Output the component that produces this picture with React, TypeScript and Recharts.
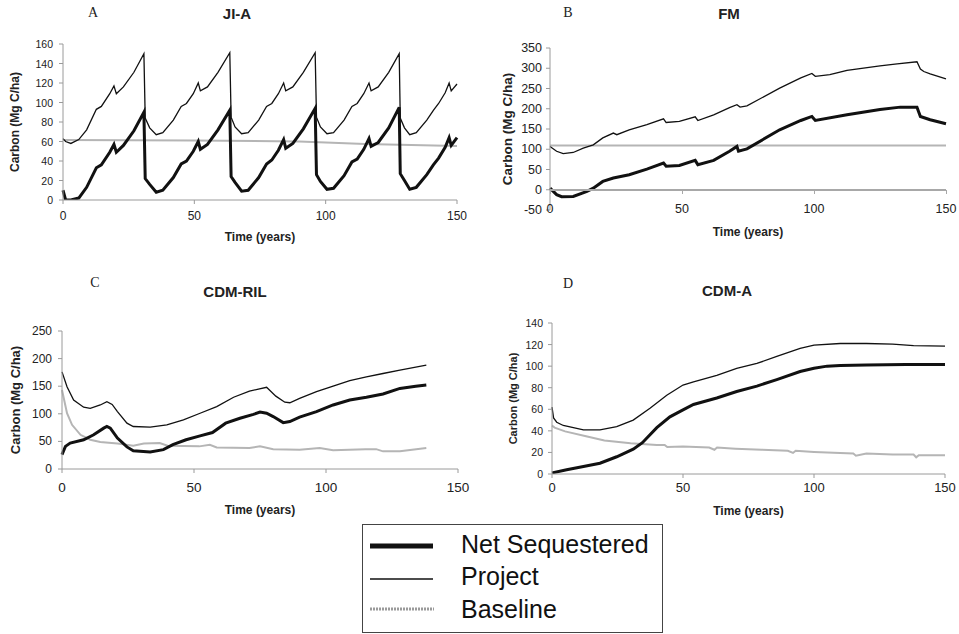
import React from 'react';
import { LineChart, Line, XAxis, YAxis } from 'recharts';

// Time axis shared by all four panels
const timeTicks = [0, 50, 100, 150];

// A: JI-A (rotation harvest, ~32 yr cycles)
const jiaYears = [
  0, 1, 3, 6, 9, 12.7, 14.6, 17.8, 19.4, 20.3, 23, 27, 30.8,
  31.3, 33, 35.5, 38, 42, 45, 47, 49.6, 51.5, 52.3, 55, 59, 63.5,
  64, 65.5, 68, 70.5, 74.5, 77.5, 79.5, 82, 84, 84.8, 87.5, 91.5, 96,
  96.5, 98, 100.5, 103, 107, 110, 112, 114.5, 116.5, 117.3, 120, 124, 128,
  128.4, 130, 132, 134.5, 138.5, 141, 143, 145.5, 147, 147.8, 150,
];
const jiaProject = [
  63, 60, 58, 62, 72, 93, 96, 109, 117, 109, 116, 131, 150,
  84, 74, 67, 69, 82, 96, 99, 109, 120, 112, 116, 131, 151,
  85, 75, 68, 69, 82, 96, 99, 109, 120, 112, 116, 131, 151,
  85, 75, 68, 69, 82, 96, 99, 109, 120, 112, 116, 131, 150,
  84, 74, 67, 69, 82, 92, 99, 110, 120, 112, 119,
];
const jiaNet = [
  10, 0, 0, 2, 13, 33, 36, 49, 57, 49, 56, 71, 90,
  22, 16, 8, 10, 23, 37, 40, 50, 60, 52, 57, 72, 92,
  24, 18, 9, 10, 23, 37, 41, 51, 62, 53, 58, 73, 94,
  26, 19, 11, 12, 25, 39, 42, 52, 63, 55, 59, 74, 95,
  27, 20, 11, 13, 26, 36, 43, 54, 64, 56, 64,
];
const jiaBaseYears = [0, 50, 90, 115, 150];
const jiaBaseline = [61.5, 61, 60, 57.5, 55.5];
const jiaTicks = [0, 20, 40, 60, 80, 100, 120, 140, 160];

// B: FM
const fmProjectYears = [
  0, 2.5, 5, 8.8, 12.6, 16.4, 20, 24, 25.3, 30, 36.7, 43, 44, 49, 55, 56, 62, 68,
  70.8, 72, 74.6, 87, 95, 99.2, 100.5, 106, 112.5, 125, 131.5, 139, 140.3, 141.6, 144, 150,
];
const fmProject = [
  107, 95, 89, 92, 103, 111, 128, 140, 136, 148, 161, 175, 166, 169, 180, 171, 185, 203,
  210, 204, 207, 251, 276, 287, 280, 284, 295, 306, 311, 316, 298, 292, 286, 274,
];
const fmNetYears = [
  0, 2.5, 4.4, 8.8, 14, 16.4, 20, 24, 30, 36.7, 43, 44, 49, 55, 56, 62, 68, 70.8,
  71.4, 74.6, 87, 95, 99.2, 100.5, 112.5, 125, 132.7, 139, 140.3, 144, 150,
];
const fmNet = [
  4, -12, -17, -16.5, -4, 4, 20.6, 29, 37, 51, 66, 58, 60, 72.5, 62, 72.5, 95, 107,
  95, 101, 148, 171, 181, 171, 185, 198, 204, 204, 181, 173, 163,
];
const fmBaseYears = [0, 150];
const fmBaseline = [109, 109];
const fmTicks = [-50, 0, 50, 100, 150, 200, 250, 300, 350];

// C: CDM-RIL
const rilProjectYears = [
  0, 1.9, 4.4, 8.2, 10.7, 14.5, 17, 19, 21, 24.6, 27, 33.4, 39.7, 46, 52.3, 58.6,
  65, 71, 77.5, 81, 84.4, 86.3, 90, 96.4, 102.7, 109, 115.3, 121.6, 128, 138,
];
const rilProject = [
  176, 149, 125, 112, 110, 116, 122, 117, 104, 83, 77, 76, 80, 89, 101, 113,
  130, 141, 148, 132, 121, 120, 128, 140, 150, 160, 167, 173, 179, 188,
];
const rilNetYears = [
  0, 1.3, 3.1, 8.2, 12, 15.8, 17, 18.3, 21, 24.6, 27, 33.4, 38.4, 42, 47, 52.3, 57,
  62, 67.4, 72.5, 75, 77.5, 80, 83.8, 86.3, 90, 96.4, 102.7, 109, 115.3, 121.6, 128, 134, 138,
];
const rilNet = [
  26, 41, 47, 53, 62, 74, 77, 74, 56, 40, 33, 31, 35, 44, 53, 60, 66,
  83, 92, 99, 103, 101, 95, 84, 86, 94, 104, 116, 125, 130, 136, 146, 150, 152,
];
const rilBaseYears = [
  0, 1.9, 3.8, 7, 10.7, 14.5, 21, 27, 31, 37, 40, 52, 56, 58.6, 71, 75, 80, 90,
  97.6, 102.7, 115, 119, 121.6, 128, 138,
];
const rilBaseline = [
  143, 101, 80, 62, 53, 49, 46, 42, 46, 47, 42, 41, 44, 39, 38, 41, 36, 35,
  38, 34, 36, 36, 32, 32, 38,
];
const rilTicks = [0, 50, 100, 150, 200, 250];

// D: CDM-A
const cdmaProjectYears = [
  0, 0.6, 1.8, 4.3, 12, 18.3, 24.7, 31, 37.4, 43.8, 50, 54, 62.9, 70.5, 78.2, 85.8,
  94.7, 100, 110, 120, 130, 138, 150,
];
const cdmaProject = [
  62, 52, 48, 45, 41, 41, 44, 50, 61, 73, 82.5, 85.5, 91.5, 98, 102.5, 109,
  116.5, 119.5, 121, 121, 120.5, 119, 118.5,
];
const cdmaNetYears = [
  0, 5.6, 12, 18.3, 24.7, 31, 34.5, 40, 45, 50, 54, 62.9, 70.5, 78.2, 85.8, 94.7,
  100, 105, 110, 120, 135, 150,
];
const cdmaNet = [
  1, 4, 7, 10, 16, 23, 29, 43, 53, 59.5, 64.5, 70.5, 76.5, 81.5, 87.5, 95,
  98, 100, 100.5, 101, 101.5, 101.5,
];
const cdmaBaseYears = [
  0, 1, 5, 13, 20, 30, 40, 43, 44, 50, 60, 62, 63, 70, 80, 90, 92, 93, 100, 110,
  115, 116, 120, 130, 138, 139, 140, 150,
];
const cdmaBaseline = [
  45, 43, 39.5, 35, 31, 28.5, 27, 27, 25, 25.5, 24.5, 22.5, 24.5, 23.5, 22.5, 21.5,
  19.5, 21.5, 20.5, 19.5, 19, 17, 19, 18, 18, 15.5, 17.5, 17.5,
];
const cdmaTicks = [0, 20, 40, 60, 80, 100, 120, 140];

const SANS = '"Liberation Sans", Arial, sans-serif';
const SERIF = '"Liberation Serif", "Times New Roman", serif';
const INK = '#111';
const GREY = '#b5b5b5';
const AXIS = '#9a9a9a';

type Pt = { t: number; v: number };
const zip = (xs: number[], ys: number[]): Pt[] => xs.map((t, i) => ({ t, v: ys[i] }));

interface PanelProps {
  left: number;
  top: number;
  width: number;
  height: number;
  marginTop: number;
  marginRight: number;
  yWidth: number;
  xHeight: number;
  yDomain: [number, number];
  yTicks: number[];
  net: Pt[];
  project: Pt[];
  baseline: Pt[];
  xFont: number;
  xOff: number;
  yFont: number;
  yGap: number;
  yLabelX: number;
  yLabelFont: number;
  xLabelY: number;
  xLabelFont: number;
  zeroAxis?: boolean;
  letter: string;
  letterPos: [number, number];
  title: string;
  titlePos: [number, number];
}

const Panel = (p: PanelProps) => {
  const plotTop = p.marginTop;
  const plotBottom = p.height - p.xHeight;
  const plotLeft = p.yWidth;
  const plotRight = p.width - p.marginRight;
  const cy = (plotTop + plotBottom) / 2;
  const cx = (plotLeft + plotRight) / 2;
  // FM panel: the time axis crosses the value axis at 0, not at the bottom
  const y0 = Math.round(plotTop + (p.yDomain[1] / (p.yDomain[1] - p.yDomain[0])) * (plotBottom - plotTop));
  const xTickSize = p.zeroAxis ? 0 : 4;

  return (
    <div style={{ position: 'absolute', left: p.left, top: p.top, width: p.width, height: p.height }}>
      <div style={{ position: 'absolute', left: 0, top: 0 }}>
        <LineChart
          width={p.width}
          height={p.height}
          margin={{ top: p.marginTop, right: p.marginRight, left: 0, bottom: 0 }}
        >
          <XAxis
            type="number"
            dataKey="t"
            domain={[0, 150]}
            ticks={timeTicks}
            interval={0}
            height={p.xHeight}
            stroke={AXIS}
            axisLine={!p.zeroAxis}
            tickLine={!p.zeroAxis}
            tickSize={xTickSize}
            tickMargin={0}
            tick={(t: any) => (
              <text x={t.x} y={t.y + p.xOff} textAnchor="middle" dominantBaseline="central"
                fontSize={p.xFont} fill="#222" fontFamily={SANS}>
                {t.payload.value}
              </text>
            )}
            label={{
              content: () => (
                <text x={cx} y={p.xLabelY} textAnchor="middle" dominantBaseline="central"
                  fontSize={p.xLabelFont} fontWeight="bold" fill="#222" fontFamily={SANS}>
                  Time (years)
                </text>
              ),
            }}
          />
          <YAxis
            type="number"
            domain={p.yDomain}
            ticks={p.yTicks}
            interval={0}
            width={p.yWidth}
            stroke={AXIS}
            tickSize={4}
            tickMargin={p.yGap}
            allowDataOverflow
            tick={(t: any) => (
              <text x={t.x} y={t.y} textAnchor="end" dominantBaseline="central"
                fontSize={p.yFont} fill="#222" fontFamily={SANS}>
                {t.payload.value}
              </text>
            )}
            label={{
              content: () => (
                <text x={p.yLabelX} y={cy} transform={`rotate(-90, ${p.yLabelX}, ${cy})`}
                  textAnchor="middle" dominantBaseline="central" fontSize={p.yLabelFont}
                  fontWeight="bold" fill="#222" fontFamily={SANS}>
                  Carbon (Mg C/ha)
                </text>
              ),
            }}
          />
          <Line data={p.baseline} dataKey="v" type="linear" stroke={GREY} strokeWidth={2}
            dot={false} isAnimationActive={false} />
          <Line data={p.project} dataKey="v" type="linear" stroke={INK} strokeWidth={1.3}
            dot={false} isAnimationActive={false} />
          <Line data={p.net} dataKey="v" type="linear" stroke={INK} strokeWidth={3}
            dot={false} isAnimationActive={false} />
        </LineChart>
      </div>
      {p.zeroAxis && (
        <div style={{ position: 'absolute', left: plotLeft, top: y0 - 1, width: plotRight - plotLeft,
          height: 2, background: '#a8a8a8', pointerEvents: 'none' }} />
      )}
      {p.zeroAxis &&
        timeTicks.map((t) => (
          <div key={t} style={{ position: 'absolute',
            left: plotLeft + (t / 150) * (plotRight - plotLeft) - 0.5, top: y0,
            width: 1, height: 4, background: '#a8a8a8', pointerEvents: 'none' }} />
        ))}
      <div style={{ position: 'absolute', left: p.letterPos[0], top: p.letterPos[1],
        transform: 'translate(-50%, -50%)', fontFamily: SERIF, fontSize: 14, color: '#222' }}>
        {p.letter}
      </div>
      <div style={{ position: 'absolute', left: p.titlePos[0], top: p.titlePos[1],
        transform: 'translate(-50%, -50%)', fontFamily: SANS, fontSize: 15, fontWeight: 'bold',
        color: '#222', whiteSpace: 'nowrap' }}>
        {p.title}
      </div>
    </div>
  );
};

const LegendBox = () => (
  <div style={{ position: 'absolute', left: 362, top: 524, width: 299, height: 107,
    border: '1px solid #444', background: '#fff' }}>
    <svg width={299} height={107} style={{ position: 'absolute', left: 0, top: 0 }}>
      <line x1={7} x2={70} y1={21} y2={21} stroke={INK} strokeWidth={5} />
      <line x1={7} x2={70} y1={54} y2={54} stroke={INK} strokeWidth={1.3} />
      <line x1={7} x2={71} y1={84} y2={84} stroke="#9a9a9a" strokeWidth={3} strokeDasharray="2 1" />
      {[
        ['Net Sequestered', 19],
        ['Project', 51],
        ['Baseline', 84],
      ].map(([name, y]) => (
        <text key={name as string} x={98} y={y as number} dominantBaseline="central"
          fontSize={25} fill="#111" fontFamily={SANS}>
          {name}
        </text>
      ))}
    </svg>
  </div>
);

export default function App() {
  return (
    <div style={{ position: 'absolute', left: 0, top: 0, width: 959, height: 634,
      background: '#fff', overflow: 'hidden' }}>
      <Panel
        left={0} top={0} width={480} height={250}
        marginTop={44} marginRight={23} yWidth={63} xHeight={50}
        yDomain={[0, 160]} yTicks={jiaTicks}
        net={zip(jiaYears, jiaNet)} project={zip(jiaYears, jiaProject)}
        baseline={zip(jiaBaseYears, jiaBaseline)}
        xFont={12} xOff={12} yFont={10.5} yGap={6}
        yLabelX={15} yLabelFont={12} xLabelY={237} xLabelFont={12}
        letter="A" letterPos={[93, 13]} title="JI-A" titlePos={[237, 13]}
      />
      <Panel
        left={480} top={0} width={479} height={250}
        marginTop={48} marginRight={13} yWidth={70} xHeight={40}
        yDomain={[-50, 350]} yTicks={fmTicks}
        net={zip(fmNetYears, fmNet)} project={zip(fmProjectYears, fmProject)}
        baseline={zip(fmBaseYears, fmBaseline)}
        xFont={12.5} xOff={-1.5} yFont={12.5} yGap={4}
        yLabelX={27} yLabelFont={13.5} xLabelY={232} xLabelFont={12}
        zeroAxis
        letter="B" letterPos={[88, 13]} title="FM" titlePos={[249, 13]}
      />
      <Panel
        left={0} top={270} width={480} height={250}
        marginTop={61} marginRight={22} yWidth={62} xHeight={51}
        yDomain={[0, 250]} yTicks={rilTicks}
        net={zip(rilNetYears, rilNet)} project={zip(rilProjectYears, rilProject)}
        baseline={zip(rilBaseYears, rilBaseline)}
        xFont={13.5} xOff={14} yFont={12} yGap={6}
        yLabelX={15} yLabelFont={13} xLabelY={240} xLabelFont={12}
        letter="C" letterPos={[95, 13]} title="CDM-RIL" titlePos={[235, 21]}
      />
      <Panel
        left={480} top={270} width={479} height={250}
        marginTop={53} marginRight={14} yWidth={72} xHeight={46}
        yDomain={[0, 140]} yTicks={cdmaTicks}
        net={zip(cdmaNetYears, cdmaNet)} project={zip(cdmaProjectYears, cdmaProject)}
        baseline={zip(cdmaBaseYears, cdmaBaseline)}
        xFont={13} xOff={9} yFont={10.5} yGap={5}
        yLabelX={33} yLabelFont={11} xLabelY={241} xLabelFont={12}
        letter="D" letterPos={[88, 14]} title="CDM-A" titlePos={[247, 20]}
      />
      <LegendBox />
    </div>
  );
}
